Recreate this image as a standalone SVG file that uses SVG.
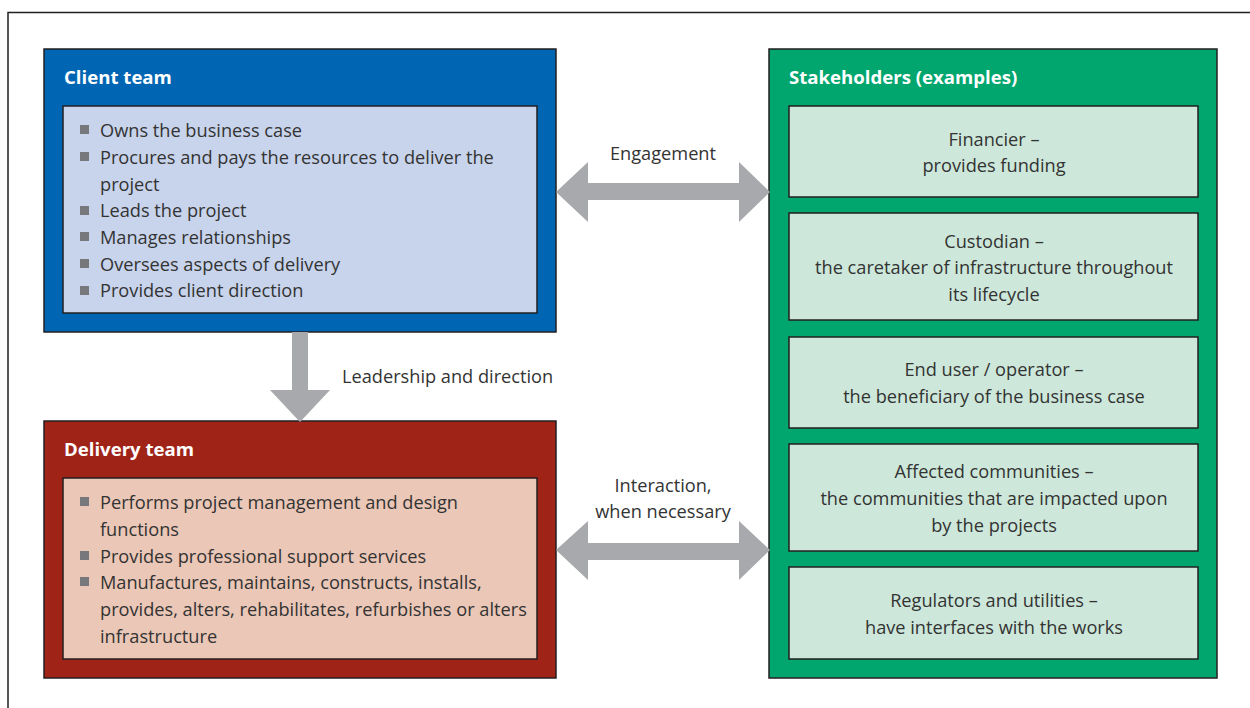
<svg xmlns="http://www.w3.org/2000/svg" width="1250" height="708" viewBox="0 0 1250 708">
<style>
.frame{fill:none;stroke:#231F20;stroke-width:1.5}
.box{stroke:#231F20;stroke-width:1.5}
.t{font-family:"Open Sans","Liberation Sans",sans-serif;font-size:18.2px;fill:#333333}
.c{text-anchor:middle}
.h{font-family:"Open Sans","Liberation Sans",sans-serif;font-size:18.6px;font-weight:bold;fill:#ffffff}
.b{fill:#77787B}
.arr{fill:#A7A9AC}
</style>
<rect x="0" y="0" width="1250" height="708" fill="#ffffff"/>
<path class="frame" d="M8,710 V12.5 H1252"/>
<g id="client-team">
<rect class="box" x="44" y="49" width="512" height="283" fill="#0066B3"/>
<text class="h" x="64" y="84">Client team</text>
<rect class="box" x="63" y="106" width="474" height="207" fill="#C8D3EC"/>
<g class="b"><rect x="80" y="125" width="9" height="9"/><rect x="80" y="152" width="9" height="9"/><rect x="80" y="206" width="9" height="9"/><rect x="80" y="232" width="9" height="9"/><rect x="80" y="259" width="9" height="9"/><rect x="80" y="286" width="9" height="9"/></g>
<text class="t" x="100" y="137">Owns the business case</text>
<text class="t" x="100" y="164">Procures and pays the resources to deliver the</text>
<text class="t" x="100" y="191">project</text>
<text class="t" x="100" y="217">Leads the project</text>
<text class="t" x="100" y="244">Manages relationships</text>
<text class="t" x="100" y="271">Oversees aspects of delivery</text>
<text class="t" x="100" y="297">Provides client direction</text>
</g>
<g id="delivery-team">
<rect class="box" x="44" y="421" width="512" height="257" fill="#A02318"/>
<text class="h" x="64" y="456">Delivery team</text>
<rect class="box" x="63" y="478" width="474" height="181" fill="#EBC7B7"/>
<g class="b"><rect x="80" y="497" width="9" height="9"/><rect x="80" y="551" width="9" height="9"/><rect x="80" y="577" width="9" height="9"/></g>
<text class="t" x="100" y="509">Performs project management and design</text>
<text class="t" x="100" y="536">functions</text>
<text class="t" x="100" y="563">Provides professional support services</text>
<text class="t" x="100" y="589">Manufactures, maintains, constructs, installs,</text>
<text class="t" x="100" y="616">provides, alters, rehabilitates, refurbishes or alters</text>
<text class="t" x="100" y="643">infrastructure</text>
</g>
<g id="stakeholders">
<rect class="box" x="769" y="49" width="448" height="629" fill="#00A66E"/>
<text class="h" x="789" y="84">Stakeholders (examples)</text>
</g>
<g id="financier">
<rect class="box" x="789" y="106" width="409" height="91" fill="#CDE8DA"/>
<text class="t c" x="994" y="146">Financier –</text>
<text class="t c" x="994" y="172">provides funding</text>
</g>
<g id="custodian">
<rect class="box" x="789" y="213" width="409" height="107" fill="#CDE8DA"/>
<text class="t c" x="994" y="248">Custodian –</text>
<text class="t c" x="994" y="274">the caretaker of infrastructure throughout</text>
<text class="t c" x="994" y="301">its lifecycle</text>
</g>
<g id="end-user">
<rect class="box" x="789" y="337" width="409" height="91" fill="#CDE8DA"/>
<text class="t c" x="994" y="376">End user / operator –</text>
<text class="t c" x="994" y="403">the beneficiary of the business case</text>
</g>
<g id="affected-communities">
<rect class="box" x="789" y="444" width="409" height="107" fill="#CDE8DA"/>
<text class="t c" x="994" y="478">Affected communities –</text>
<text class="t c" x="994" y="505">the communities that are impacted upon</text>
<text class="t c" x="994" y="532">by the projects</text>
</g>
<g id="regulators">
<rect class="box" x="789" y="567" width="409" height="92" fill="#CDE8DA"/>
<text class="t c" x="994" y="607">Regulators and utilities –</text>
<text class="t c" x="994" y="634">have interfaces with the works</text>
</g>
<g id="connectors">
<polygon class="arr" points="556,192 588,162 588,183 739,183 739,162 770,192 739,222 739,200 588,200 588,222"/>
<polygon class="arr" points="556,550 588,521 588,543 739,543 739,521 770,550 739,580 739,560 588,560 588,580"/>
<polygon class="arr" points="292,332 308,332 308,390 330,390 300,422 270,390 292,390"/>
<text class="t c" x="663" y="160">Engagement</text>
<text class="t" x="342" y="383">Leadership and direction</text>
<text class="t c" x="663" y="492">Interaction,</text>
<text class="t c" x="663" y="518">when necessary</text>
</g>
</svg>
